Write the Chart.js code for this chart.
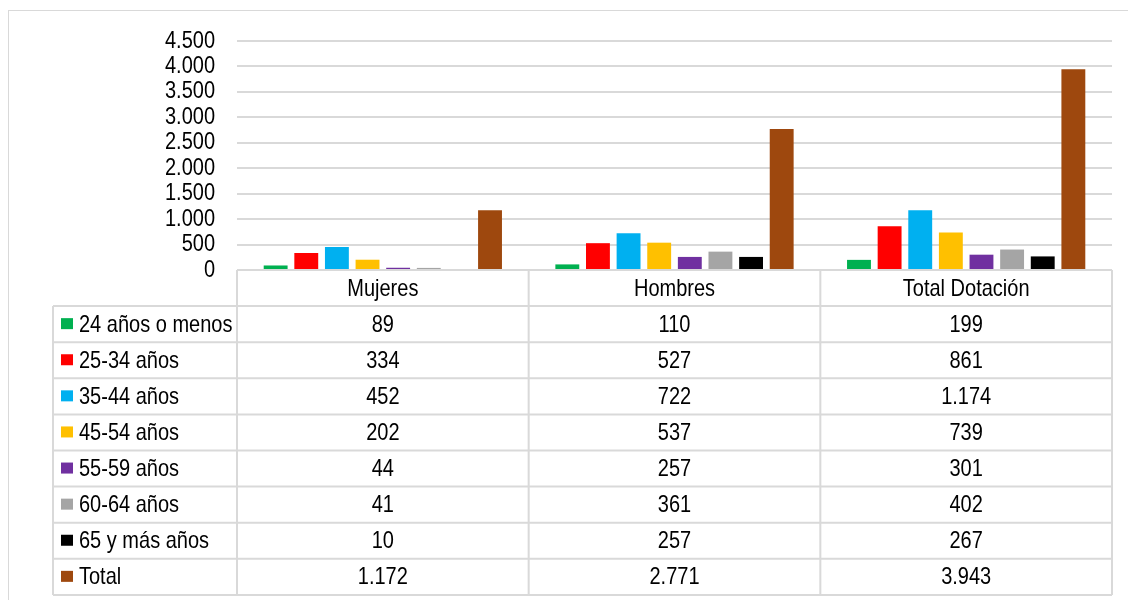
<!DOCTYPE html>
<html>
<head>
<meta charset="utf-8">
<script src="https://cdn.jsdelivr.net/npm/chart.js@4.4.1/dist/chart.umd.min.js"></script>
<style>
  html, body { margin: 0; padding: 0; background: #fff; }
  #wrap { position: relative; width: 1128px; height: 600px; overflow: hidden; }
  #frame { position: absolute; left: 8px; top: 10px; width: 1140px; height: 620px; border: 1.5px solid #d9d9d9; box-sizing: border-box; }
  canvas { position: absolute; left: 0; top: 0; }
</style>
</head>
<body>
<div id="wrap">
  <div id="frame"></div>
  <canvas id="myChart" width="1128" height="600"></canvas>
</div>
<script>
// categorías (columnas de la tabla)
var categorias = ["Mujeres", "Hombres", "Total Dotación"];

// series por tramo de edad
var series = ["24 años o menos", "25-34 años", "35-44 años", "45-54 años", "55-59 años", "60-64 años", "65 y más años", "Total"];
var colores = ["#00B050", "#FF0000", "#00B0F0", "#FFC000", "#7030A0", "#A5A5A5", "#000000", "#9E480E"];

var mujeres = [89, 334, 452, 202, 44, 41, 10, 1172];
var hombres = [110, 527, 722, 537, 257, 361, 257, 2771];
var totalDot = [199, 861, 1174, 739, 301, 402, 267, 3943];

var yTicks = [0, 500, 1000, 1500, 2000, 2500, 3000, 3500, 4000, 4500];

var FONT = "'Liberation Sans', Arial, sans-serif";
var LINE = "#d9d9d9";
var STRETCH = 1.18; // el texto del original está algo estirado en vertical

function fmt(n) {
  return String(n).replace(/\B(?=(\d{3})+(?!\d))/g, ".");
}

function texto(c, t, x, y, align) {
  c.save();
  c.translate(x, y);
  c.scale(1, STRETCH);
  c.textAlign = align;
  c.textBaseline = "middle";
  c.fillText(t, 0, 0);
  c.restore();
}

var datasets = [];
for (var i = 0; i < series.length; i++) {
  datasets.push({
    label: series[i],
    data: [mujeres[i], hombres[i], totalDot[i]],
    backgroundColor: colores[i],
    categoryPercentage: 0.84,
    barPercentage: 0.78
  });
}

// tabla de datos debajo del gráfico (como en Excel) + etiquetas del eje y
var tablaPlugin = {
  id: "tabla",
  afterDraw: function(chart) {
    var c = chart.ctx;
    var area = chart.chartArea;
    var xs = chart.scales.x;
    var ys = chart.scales.y;
    var top = area.bottom;
    var rowH = 36.1;
    var legLeft = 53;
    var colW = (area.right - area.left) / categorias.length;
    var bottom = top + rowH * (series.length + 1);

    c.save();
    c.strokeStyle = LINE;
    c.lineWidth = 2;
    c.beginPath();
    c.moveTo(area.left, top); c.lineTo(area.right, top);
    for (var r = 1; r <= series.length + 1; r++) {
      var y = top + rowH * r;
      c.moveTo(legLeft, y); c.lineTo(area.right, y);
    }
    for (var k = 0; k <= categorias.length; k++) {
      var x = area.left + colW * k;
      c.moveTo(x, top); c.lineTo(x, bottom);
    }
    c.moveTo(legLeft, top + rowH); c.lineTo(legLeft, bottom);
    c.stroke();

    c.fillStyle = "#000";
    c.font = "20px " + FONT;

    // etiquetas eje y
    for (var t = 0; t < yTicks.length; t++) {
      texto(c, fmt(yTicks[t]), 215, ys.getPixelForValue(yTicks[t]), "right");
    }

    for (var k2 = 0; k2 < categorias.length; k2++) {
      var cx = xs.getPixelForValue(k2);
      texto(c, categorias[k2], cx, top + rowH / 2 + 1, "center");
      for (var s = 0; s < series.length; s++) {
        var v = chart.data.datasets[s].data[k2];
        texto(c, fmt(v), cx, top + rowH * (s + 1.5) + 1, "center");
      }
    }
    for (var s2 = 0; s2 < series.length; s2++) {
      var yy = top + rowH * (s2 + 1.5);
      c.fillStyle = colores[s2];
      c.fillRect(61, yy - 6, 12, 11);
      c.fillStyle = "#000";
      texto(c, series[s2], 79, yy + 1, "left");
    }
    c.restore();
  }
};

var ctx = document.getElementById("myChart");
var myBarChart = new Chart(ctx, {
  type: "bar",
  data: {
    labels: categorias,
    datasets: datasets
  },
  options: {
    responsive: false,
    animation: false,
    layout: { padding: { top: 41, right: 16, bottom: 330, left: 0 } },
    plugins: {
      legend: { display: false },
      tooltip: { enabled: false }
    },
    scales: {
      x: { display: false },
      y: {
        min: 0,
        max: 4500,
        afterFit: function(scale) { scale.width = 237; },
        afterBuildTicks: function(scale) {
          scale.ticks = yTicks.map(function(v) { return { value: v }; });
        },
        border: { display: false },
        grid: { color: LINE, lineWidth: 2, drawTicks: false },
        ticks: {
          display: false,
          autoSkip: false
        }
      }
    }
  },
  plugins: [tablaPlugin]
});
</script>
</body>
</html>
